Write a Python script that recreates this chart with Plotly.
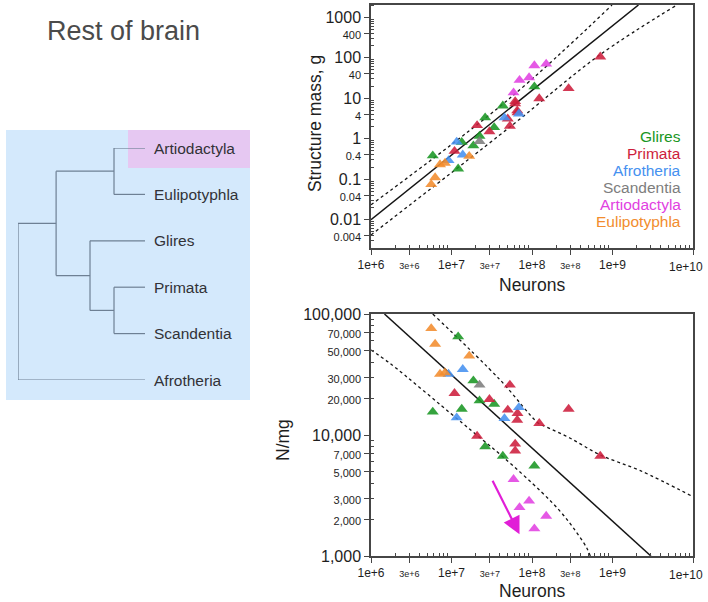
import math
import plotly.graph_objects as go

W, H = 708, 602
FONT = "Liberation Sans, Arial, Helvetica, sans-serif"

# ---------------- data ----------------
groups = ["Glires", "Primata", "Afrotheria", "Scandentia", "Artiodactyla", "Eulipotyphla"]
group_colors = ["rgb(25,150,35)", "rgb(205,30,60)", "rgb(70,145,240)",
                "rgb(125,125,125)", "rgb(225,65,225)", "rgb(242,140,45)"]

glires_neurons = [5.85e6, 1.21e7, 1.34e7, 1.87e7, 2.23e7, 2.62e7, 3.39e7, 4.34e7, 1.07e8]
glires_mass = [0.38, 0.18, 0.82, 0.67, 1.16, 3.3, 1.9, 6.5, 19.3]
glires_density = [15500, 64900, 16400, 28100, 19200, 8000, 18000, 6700, 5550]

primata_neurons = [1.09e7, 2.08e7, 2.96e7, 5.0e7, 5.31e7, 6.18e7, 6.18e7, 6.55e7, 6.6e7, 1.23e8, 2.85e8, 7.05e8]
primata_mass = [0.49, 2.12, 1.5, 3.1, 2.05, 7.3, 8.3, 4.9, 4.4, 9.8, 17.4, 105]
primata_density = [22100, 9800, 19700, 16100, 25900, 8430, 7410, 13300, 15100, 12500, 16400, 6700]

afrotheria_neurons = [9.2e6, 1.16e7, 1.38e7, 4.55e7, 6.87e7]
afrotheria_mass = [0.29, 0.83, 0.40, 3.3, 4.1]
afrotheria_density = [31900, 13900, 34900, 13700, 16900]

scandentia_neurons = [2.23e7]
scandentia_mass = [0.86]
scandentia_density = [25900]

artiodactyla_neurons = [5.9e7, 7.0e7, 9.2e7, 1.07e8, 1.5e8]
artiodactyla_mass = [13.7, 27.8, 32.3, 63.7, 70]
artiodactyla_density = [4300, 2520, 2850, 1680, 2140]

eulipotyphla_neurons = [5.6e6, 6.26e6, 7.2e6, 8.3e6, 1.66e7]
eulipotyphla_mass = [0.074, 0.11, 0.23, 0.25, 0.37]
eulipotyphla_density = [76000, 56500, 31900, 32700, 45000]

# fitted line and bands, top panel (structure mass)
mass_fit_neurons = [1e6, 2.1e9]
mass_fit_values = [0.01, 2000]
mass_upper_neurons = [1e6, 5.25e7, 9.86e8]
mass_upper_values = [0.0233, 9.8, 2000]
mass_lower_neurons = [1e6, 5.36e7, 6.9e8, 6.3e9]
mass_lower_values = [0.0042, 1.97, 116, 2000]

# fitted line and bands, bottom panel (neuronal density)
dens_fit_neurons = [1.47e6, 3.0e9]
dens_fit_values = [100000, 1000]
dens_upper_neurons = [5.85e6, 4.02e7, 1.205e8, 1.53e8, 2.99e8, 7.05e8, 2.22e9, 1e10]
dens_upper_values = [100000, 28500, 12500, 11600, 9400, 6840, 5070, 3090]
dens_lower_neurons = [1e6, 1.72e6, 1.16e7, 2.06e7, 4.43e7, 1.3e8, 2.24e8, 3.28e8, 4.81e8, 5.3e8]
dens_lower_values = [50400, 39100, 13700, 10000, 6530, 3400, 2340, 1700, 1160, 1000]

# arrow (Artiodactyla shift)
arrow_tail = (3.17e7, 4300)
arrow_head = (7.0e7, 1510)

# tick labels
x_tickvals = [1e6, 3e6, 1e7, 3e7, 1e8, 3e8, 1e9, 1e10]
x_ticklabels = ["1e+6", "3e+6", "1e+7", "3e+7", "1e+8", "3e+8", "1e+9", "1e+10"]
mass_tickvals = [0.004, 0.01, 0.04, 0.1, 0.4, 1, 4, 10, 40, 100, 400, 1000]
mass_ticklabels = ["0.004", "0.01", "0.04", "0.1", "0.4", "1", "4", "10", "40", "100", "400", "1000"]
dens_tickvals = [1000, 2000, 3000, 5000, 7000, 10000, 20000, 30000, 50000, 70000, 100000]
dens_ticklabels = ["1,000", "2,000", "3,000", "5,000", "7,000", "10,000", "20,000",
                   "30,000", "50,000", "70,000", "100,000"]

# phylogeny: (name, node depth, children); leaves are strings
tree_leaves = ["Artiodactyla", "Eulipotyphla", "Glires", "Primata", "Scandentia", "Afrotheria"]
tree = ("root", 0.0, [
    ("AEGPS", 0.30, [
        ("AE", 0.756, ["Artiodactyla", "Eulipotyphla"]),
        ("GPS", 0.567, ["Glires", ("PS", 0.756, ["Primata", "Scandentia"])]),
    ]),
    "Afrotheria",
])

# ---------------- figure ----------------
series = [
    (glires_neurons, glires_mass, glires_density),
    (primata_neurons, primata_mass, primata_density),
    (afrotheria_neurons, afrotheria_mass, afrotheria_density),
    (scandentia_neurons, scandentia_mass, scandentia_density),
    (artiodactyla_neurons, artiodactyla_mass, artiodactyla_density),
    (eulipotyphla_neurons, eulipotyphla_mass, eulipotyphla_density),
]

fig = go.Figure()

line_black = "rgb(20,20,20)"
fig.add_trace(go.Scatter(x=mass_fit_neurons, y=mass_fit_values, mode="lines",
                         line=dict(color=line_black, width=1.5), xaxis="x", yaxis="y", hoverinfo="skip"))
for xs, ys in [(mass_upper_neurons, mass_upper_values), (mass_lower_neurons, mass_lower_values)]:
    fig.add_trace(go.Scatter(x=xs, y=ys, mode="lines", line_shape="spline",
                             line=dict(color=line_black, width=1.3, dash="dot"),
                             xaxis="x", yaxis="y", hoverinfo="skip"))
fig.add_trace(go.Scatter(x=dens_fit_neurons, y=dens_fit_values, mode="lines",
                         line=dict(color=line_black, width=1.5), xaxis="x2", yaxis="y2", hoverinfo="skip"))
for xs, ys in [(dens_upper_neurons, dens_upper_values), (dens_lower_neurons, dens_lower_values)]:
    fig.add_trace(go.Scatter(x=xs, y=ys, mode="lines", line_shape="spline",
                             line=dict(color=line_black, width=1.3, dash="dot"),
                             xaxis="x2", yaxis="y2", hoverinfo="skip"))

for name, col, (n, m, d) in zip(groups, group_colors, series):
    mk = dict(symbol="triangle-up", size=10.5, color=col, opacity=0.88, line=dict(width=0))
    fig.add_trace(go.Scatter(x=n, y=m, mode="markers", marker=mk, name=name,
                             xaxis="x", yaxis="y"))
    fig.add_trace(go.Scatter(x=n, y=d, mode="markers", marker=mk, name=name,
                             xaxis="x2", yaxis="y2"))

# ---- tree ----
leaf_index = {lf: i for i, lf in enumerate(tree_leaves)}
seg_x, seg_y = [], []


def draw(node):
    if isinstance(node, str):
        return 1.0, leaf_index[node]
    _, depth, kids = node
    pos = [draw(k) for k in kids]
    ys = [p[1] for p in pos]
    seg_x.extend([depth, depth, None])
    seg_y.extend([min(ys), max(ys), None])
    for (cx, cy) in pos:
        seg_x.extend([depth, cx, None])
        seg_y.extend([cy, cy, None])
    return depth, sum(ys) / len(ys)


draw(tree)
fig.add_trace(go.Scatter(x=seg_x, y=seg_y, mode="lines",
                         line=dict(color="rgb(110,128,148)", width=1.2),
                         xaxis="x3", yaxis="y3", hoverinfo="skip"))

# ---------------- layout ----------------
def small(s, size):
    return f'<span style="font-size:{size}px">{s}</span>'


XT_SIZE = 12
x_ticktext = [t if t.startswith("1e") else small(t, 9) for t in x_ticklabels]
last_x_label = x_ticktext[-1]
x_ticktext[-1] = ""  # drawn as an annotation, nudged left to stay inside the page (as in the reference)
mass_ticktext = [t if t.lstrip("0.").startswith("1") else small(t, 11) for t in mass_ticklabels]
dens_ticktext = [t if t.replace(",", "").strip("0") == "1" else small(t, 11) for t in dens_ticklabels]

minor_x = [k * 10 ** e for e in range(6, 10) for k in range(2, 10)]
minor_mass = [k * 10 ** e for e in range(-3, 4) for k in range(2, 10)]
minor_dens = [k * 10 ** e for e in range(3, 5) for k in range(2, 10)]

X_DOM = [371 / W, 693 / W]
TOP_DOM = [1 - 248 / H, 1 - 5 / H]
BOT_DOM = [1 - 556 / H, 1 - 314 / H]

AX_COL = "rgb(70,70,70)"
axis_common = dict(type="log", showgrid=False, zeroline=False, showline=True, mirror=True,
                   automargin=False, ticklabeloverflow="allow",
                   linecolor=AX_COL, linewidth=1.5, ticks="outside", ticklen=5,
                   tickwidth=1.2, tickcolor=AX_COL)


def xaxis(anchor):
    return dict(axis_common, domain=X_DOM, anchor=anchor, range=[6, 10],
                tickmode="array", tickvals=x_tickvals, ticktext=x_ticktext,
                tickfont=dict(family=FONT, size=XT_SIZE, color="rgb(30,30,30)"),
                minor=dict(tickvals=minor_x, ticks="inside", ticklen=3, tickcolor=AX_COL))


yfont = dict(family=FONT, size=16, color="rgb(30,30,30)")

fig.update_layout(
    width=W, height=H, margin=dict(l=0, r=0, t=0, b=0, autoexpand=False),
    paper_bgcolor="white", plot_bgcolor="rgba(0,0,0,0)", showlegend=False,
    font=dict(family=FONT, color="rgb(30,30,30)"),
    xaxis=xaxis("y"),
    yaxis=dict(axis_common, domain=TOP_DOM, anchor="x", range=[-2.699, 3.301],
               tickmode="array", tickvals=mass_tickvals, ticktext=mass_ticktext, tickfont=yfont,
               minor=dict(tickvals=minor_mass, ticks="inside", ticklen=3, tickcolor=AX_COL)),
    xaxis2=xaxis("y2"),
    yaxis2=dict(axis_common, domain=BOT_DOM, anchor="x2", range=[3, 5],
                tickmode="array", tickvals=dens_tickvals, ticktext=dens_ticktext, tickfont=yfont,
                minor=dict(tickvals=minor_dens, ticks="inside", ticklen=3, tickcolor=AX_COL)),
    xaxis3=dict(domain=[18 / W, 145 / W], range=[0, 1], visible=False, anchor="y3", automargin=False),
    yaxis3=dict(domain=[1 - 380 / H, 1 - 148 / H], range=[5, 0], visible=False, anchor="x3",
                automargin=False),
)

# last x tick label on both panels
for xr, yr in [("x", "y"), ("x2", "y2")]:
    fig.add_annotation(x=math.log10(x_tickvals[-1]), y=0, xref=xr, yref=f"{yr} domain",
                       text=last_x_label, showarrow=False, xanchor="right", yanchor="top",
                       xshift=12, yshift=-10,
                       font=dict(family=FONT, size=XT_SIZE, color="rgb(30,30,30)"))

fig.add_shape(type="rect", xref="paper", yref="paper", x0=6 / W, x1=250 / W,
              y0=1 - 400 / H, y1=1 - 130 / H, fillcolor="rgb(212,233,252)", line_width=0, layer="below")
fig.add_shape(type="rect", xref="paper", yref="paper", x0=128 / W, x1=250 / W,
              y0=1 - 168 / H, y1=1 - 130 / H, fillcolor="rgb(230,200,242)", line_width=0, layer="below")

for lf in tree_leaves:
    fig.add_annotation(x=1, y=leaf_index[lf], xref="x3", yref="y3", text=lf, showarrow=False,
                       xanchor="left", yanchor="middle", xshift=7,
                       font=dict(family=FONT, size=15.5, color="rgb(50,50,55)"))

fig.add_annotation(x=123 / W, y=1 - 31 / H, xref="paper", yref="paper", text="Rest of brain",
                   showarrow=False, xanchor="center", yanchor="middle",
                   font=dict(family=FONT, size=27, color="rgb(75,75,75)"))

legend_y = [136, 153.5, 170.5, 187.5, 204.5, 222]
for name, col, yy in zip(groups, group_colors, legend_y):
    fig.add_annotation(x=683 / W, y=1 - yy / H, xref="paper", yref="paper", text=name,
                       showarrow=False, xanchor="right", yanchor="middle",
                       font=dict(family=FONT, size=15.5, color=col))

title_font = dict(family=FONT, size=17.5, color="rgb(30,30,30)")
fig.add_annotation(x=315 / W, y=1 - 124 / H, xref="paper", yref="paper", text="Structure mass, g",
                   textangle=-90, showarrow=False, xanchor="center", yanchor="middle", font=title_font)
fig.add_annotation(x=532 / W, y=1 - 285 / H, xref="paper", yref="paper", text="Neurons",
                   showarrow=False, xanchor="center", yanchor="middle", font=title_font)
fig.add_annotation(x=283 / W, y=1 - 440 / H, xref="paper", yref="paper", text="N/mg",
                   textangle=-90, showarrow=False, xanchor="center", yanchor="middle", font=title_font)
fig.add_annotation(x=532 / W, y=1 - 591 / H, xref="paper", yref="paper", text="Neurons",
                   showarrow=False, xanchor="center", yanchor="middle", font=title_font)

fig.add_annotation(x=math.log10(arrow_head[0]), y=math.log10(arrow_head[1]), xref="x2", yref="y2",
                   ax=math.log10(arrow_tail[0]), ay=math.log10(arrow_tail[1]), axref="x2", ayref="y2",
                   showarrow=True, arrowhead=2, arrowsize=1.6, arrowwidth=2.2,
                   arrowcolor="rgb(225,30,215)", text="")

fig.write_html("out.html", config={"displayModeBar": False},
               post_script="document.body.style.margin='0px';")
